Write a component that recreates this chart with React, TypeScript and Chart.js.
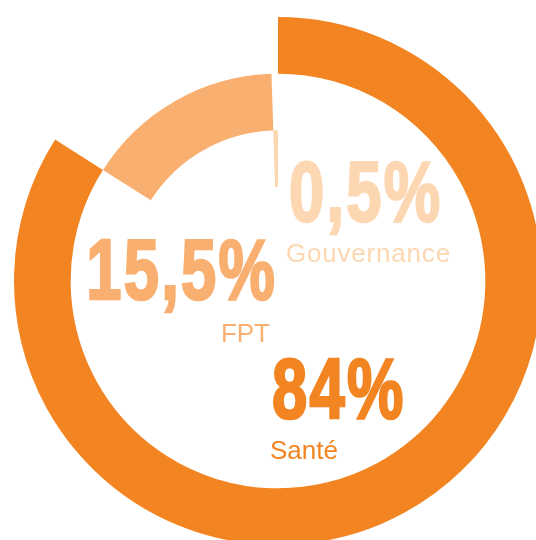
import React, { useEffect, useRef } from "react";
import { Chart, registerables } from "chart.js";

Chart.register(...registerables);

const categories = ["Santé", "FPT", "Gouvernance"];
const values = [84, 15.5, 0.5];
const valueLabels = ["84%", "15,5%", "0,5%"];
const colors = ["#F28522", "#F9AF6F", "#FDD7B2"];

const bigFont = {
  position: "absolute" as const,
  fontFamily: '"Liberation Sans", Arial, sans-serif',
  fontWeight: 700,
  fontSize: "85px",
  lineHeight: "85px",
  letterSpacing: "3px",
  whiteSpace: "nowrap" as const,
  WebkitTextStroke: "2.6px currentColor",
};
const smallFont = {
  position: "absolute" as const,
  fontFamily: '"Liberation Sans", Arial, sans-serif',
  fontWeight: 400,
  fontSize: "26px",
  lineHeight: "26px",
  whiteSpace: "nowrap" as const,
};

export default function App() {
  const ref = useRef<HTMLCanvasElement | null>(null);

  useEffect(() => {
    if (!ref.current) return;
    const chart = new Chart(ref.current, {
      type: "doughnut",
      data: {
        labels: categories,
        datasets: categories.map((_, i) => ({
          data: values,
          backgroundColor: values.map((_, j) => (j === i ? colors[i] : "rgba(0,0,0,0)")),
          borderWidth: 0,
          hoverOffset: 0,
          offset: 0,
        })),
      },
      options: {
        responsive: false,
        animation: false,
        cutout: "35.6%",
        rotation: 0,
        layout: { padding: 0 },
        events: [],
        plugins: {
          legend: { display: false },
          tooltip: { enabled: false },
        },
      },
    });
    return () => chart.destroy();
  }, []);

  return (
    <div
      style={{
        position: "fixed",
        left: 0,
        top: 0,
        width: 536,
        height: 540,
        overflow: "hidden",
        background: "#fff",
      }}
    >
      <canvas
        ref={ref}
        width={528}
        height={528}
        style={{ position: "absolute", left: 14, top: 17, width: 528, height: 528 }}
      />
      <div style={{ ...bigFont, color: colors[2], left: 289, top: 149, transform: "scaleX(0.745)", transformOrigin: "left top" }}>
        {valueLabels[2]}
      </div>
      <div style={{ ...smallFont, color: colors[2], left: 286, top: 240, letterSpacing: "0.8px" }}>{categories[2]}</div>
      <div style={{ ...bigFont, color: colors[1], right: 259, top: 227, transform: "scaleX(0.745)", transformOrigin: "right top" }}>
        {valueLabels[1]}
      </div>
      <div style={{ ...smallFont, color: colors[1], right: 266, top: 320 }}>{categories[1]}</div>
      <div style={{ ...bigFont, color: colors[0], left: 272, top: 346, transform: "scaleX(0.745)", transformOrigin: "left top" }}>
        {valueLabels[0]}
      </div>
      <div style={{ ...smallFont, color: colors[0], left: 270, top: 437 }}>{categories[0]}</div>
    </div>
  );
}
